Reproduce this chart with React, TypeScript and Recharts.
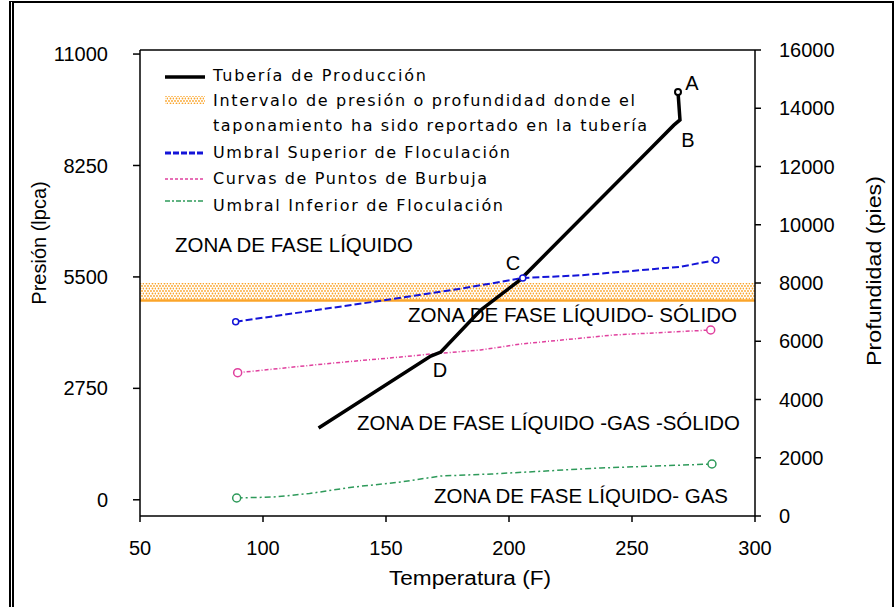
import React from 'react';
import { LineChart, Line, XAxis, YAxis, ReferenceArea, ReferenceLine, Customized } from 'recharts';

// ---- data ----
const tempTicks = [50, 100, 150, 200, 250, 300];
const presionTicks = [0, 2750, 5500, 8250, 11000];
const profTicks = [0, 2000, 4000, 6000, 8000, 10000, 12000, 14000, 16000];

// Tubería de Producción: temperatura (F) vs profundidad (pies)
const tuberiaTemp = [122.6, 168.2, 172.3, 188.5, 204.4, 257.7, 267.0, 269.5, 268.7];
const tuberiaProf = [3020, 5490, 5630, 7070, 8100, 12630, 13420, 13600, 14560];

// Intervalo de taponamiento (profundidad, pies)
const intervaloProf = [7400, 8000];

// Umbral Superior de Floculación: temperatura vs presión (lpca)
const superiorTemp = [88.9, 100.2, 147.2, 179.6, 205.6, 229.2, 249.5, 269.9, 284.1];
const superiorPres = [4395, 4494, 4906, 5202, 5473, 5540, 5646, 5752, 5918];

// Curvas de Puntos de Burbuja
const burbujaTemp = [89.7, 128.7, 156.0, 168.2, 188.5, 204.8, 242.6, 282.0];
const burbujaPres = [3136, 3376, 3524, 3598, 3697, 3845, 4067, 4190];

// Umbral Inferior de Floculación
const inferiorTemp = [89.3, 104.3, 118.9, 136.9, 156.0, 172.3, 193.0, 215.0, 237.3, 259.7, 282.5];
const inferiorPres = [44, 69, 155, 316, 439, 587, 637, 711, 785, 834, 883];

const legendItems = [
  'Tubería de Producción',
  'Intervalo de presión o profundidad donde el',
  'taponamiento ha sido reportado en la tubería',
  'Umbral Superior de Floculación',
  'Curvas de Puntos de Burbuja',
  'Umbral Inferior de Floculación',
];

const zoneLabels = [
  'ZONA DE FASE LÍQUIDO',
  'ZONA DE FASE LÍQUIDO- SÓLIDO',
  'ZONA DE FASE LÍQUIDO -GAS -SÓLIDO',
  'ZONA DE FASE LÍQUIDO- GAS',
];

const pointLetters = ['A', 'B', 'C', 'D'];

const zip = (xs: number[], ys: number[]) => xs.map((t, i) => ({ t, v: ys[i] }));

const tuberiaData = zip(tuberiaTemp, tuberiaProf);
const superiorData = zip(superiorTemp, superiorPres);
const burbujaData = zip(burbujaTemp, burbujaPres);
const inferiorData = zip(inferiorTemp, inferiorPres);

// ---- styles ----
const FONT = '"Liberation Sans", Arial, sans-serif';
const LFONT = '"DejaVu Sans", Verdana, sans-serif';
const BLACK = '#000000';
const BLUE = '#1414D8';
const PINK = '#E0409E';
const GREEN = '#2E9A5A';
const ORANGE = '#FBA52A';

const makeDot = (color: string, indices: number[], r: number, fill = '#ffffff', sw = 1.5) => (props: any) => {
  const { cx, cy, index } = props;
  if (!indices.includes(index) || cx == null || cy == null) return <g key={`d${index}`} />;
  return <circle key={`d${index}`} cx={cx} cy={cy} r={r} fill={fill} stroke={color} strokeWidth={sw} />;
};

const LegendBlock = () => {
  const tx = 213;
  const ys = [75, 100, 125, 152, 178, 205];
  const lengths = [213, 422, 434, 297, 274, 290];
  return (
    <g>
      <line x1={165} y1={77} x2={205} y2={77} stroke={BLACK} strokeWidth={3.5} />
      <rect x={165} y={96} width={40} height={8} fill="url(#bandDots)" />
      <line x1={165} y1={153} x2={205} y2={153} stroke={BLUE} strokeWidth={3} strokeDasharray="6 2" />
      <line x1={165} y1={179} x2={205} y2={179} stroke={PINK} strokeWidth={1.5} strokeDasharray="3 2" />
      <line x1={165} y1={201} x2={205} y2={201} stroke={GREEN} strokeWidth={1.5} strokeDasharray="5 2 2 2" />
      {legendItems.map((s, i) => (
        <text key={s} x={tx} y={ys[i]} dominantBaseline="central" fontFamily={LFONT} fontSize={16}
          fill={BLACK} textLength={lengths[i]} lengthAdjust="spacing">{s}</text>
      ))}
    </g>
  );
};

const Annotations = () => {
  const zonePos = [
    { x: 175, y: 245, w: 238 },
    { x: 408, y: 315, w: 329 },
    { x: 357, y: 423, w: 383 },
    { x: 434, y: 496, w: 294 },
  ];
  const letterPos = [
    { x: 692, y: 83 },
    { x: 688, y: 140 },
    { x: 513, y: 263 },
    { x: 440, y: 370 },
  ];
  return (
    <g>
      {zoneLabels.map((s, i) => (
        <text key={s} x={zonePos[i].x} y={zonePos[i].y} dominantBaseline="central" fontFamily={FONT}
          fontSize={20} fill={BLACK} textLength={zonePos[i].w} lengthAdjust="spacingAndGlyphs">{s}</text>
      ))}
      {pointLetters.map((s, i) => (
        <text key={s} x={letterPos[i].x} y={letterPos[i].y} dominantBaseline="central" textAnchor="middle"
          fontFamily={FONT} fontSize={20} fill={BLACK}>{s}</text>
      ))}
      <text x={470} y={578} dominantBaseline="central" textAnchor="middle" fontFamily={FONT} fontSize={20}
        fill={BLACK} textLength={162} lengthAdjust="spacingAndGlyphs">Temperatura (F)</text>
      <text x={39} y={243} dominantBaseline="central" textAnchor="middle" fontFamily={FONT} fontSize={20}
        fill={BLACK} transform="rotate(-90 39 243)">Presión (lpca)</text>
      <text x={874} y={271} dominantBaseline="central" textAnchor="middle" fontFamily={FONT} fontSize={20}
        fill={BLACK} transform="rotate(-90 874 271)" textLength={190} lengthAdjust="spacingAndGlyphs">Profundidad (pies)</text>
    </g>
  );
};

const tickStyle = { fontFamily: FONT, fontSize: 20, fill: BLACK };

export default function App() {
  return (
    <div style={{ position: 'absolute', left: 0, top: 0, width: 895, height: 607, background: '#fff', overflow: 'hidden' }}>
      <svg width={0} height={0} style={{ position: 'absolute' }}>
        <defs>
          <pattern id="bandDots" patternUnits="userSpaceOnUse" width={6} height={5}>
            <rect width={6} height={5} fill="#ffffff" />
            <circle cx={1} cy={1} r={0.9} fill={ORANGE} />
            <circle cx={4} cy={1} r={0.9} fill={ORANGE} />
            <circle cx={2.5} cy={3.5} r={0.9} fill={ORANGE} />
            <circle cx={5.5} cy={3.5} r={0.9} fill={ORANGE} />
          </pattern>
        </defs>
      </svg>
      <div style={{ position: 'absolute', left: 9, top: 1, width: 878, height: 640, borderLeft: '5px double #000', borderTop: '2px solid #000', borderRight: '2px solid #000' }} />
      <div style={{ position: 'absolute', left: 0, top: 0 }}>
        <LineChart width={895} height={607} margin={{ top: 50, right: 0, bottom: 0, left: 0 }}>
          <XAxis type="number" dataKey="t" domain={[50, 300]} ticks={tempTicks} allowDataOverflow
            height={91} tickSize={6} tickMargin={19} tick={tickStyle}
            axisLine={{ stroke: BLACK, strokeWidth: 1.5 }} tickLine={{ stroke: BLACK, strokeWidth: 1.5 }} />
          <YAxis yAxisId="left" orientation="left" type="number" domain={[-400, 11100]} ticks={presionTicks}
            allowDataOverflow width={140} tickSize={7} tickMargin={25} tick={tickStyle}
            axisLine={{ stroke: BLACK, strokeWidth: 1.5 }} tickLine={{ stroke: BLACK, strokeWidth: 1.5 }} />
          <YAxis yAxisId="right" orientation="right" type="number" domain={[0, 16000]} ticks={profTicks}
            allowDataOverflow width={140} tickSize={6} tickMargin={18} tick={{ ...tickStyle, textAnchor: 'start' }}
            axisLine={{ stroke: BLACK, strokeWidth: 1.5 }} tickLine={{ stroke: BLACK, strokeWidth: 1.5 }} />
          <ReferenceArea yAxisId="right" y1={intervaloProf[0]} y2={intervaloProf[1]} fill="url(#bandDots)" fillOpacity={1} stroke="none" />
          <ReferenceLine yAxisId="right" y={intervaloProf[0]} stroke={ORANGE} strokeWidth={2.5} />
          <ReferenceLine yAxisId="right" y={16000} stroke={BLACK} strokeWidth={1.5} />
          <Line data={inferiorData} yAxisId="left" dataKey="v" type="linear" stroke={GREEN} strokeWidth={1.5}
            strokeDasharray="6 3 2 3" isAnimationActive={false}
            dot={makeDot(GREEN, [0, inferiorData.length - 1], 4)} activeDot={false} />
          <Line data={burbujaData} yAxisId="left" dataKey="v" type="linear" stroke={PINK} strokeWidth={1.5}
            strokeDasharray="4 2 1 2" isAnimationActive={false}
            dot={makeDot(PINK, [0, burbujaData.length - 1], 4)} activeDot={false} />
          <Line data={superiorData} yAxisId="left" dataKey="v" type="linear" stroke={BLUE} strokeWidth={2}
            strokeDasharray="7 3" isAnimationActive={false}
            dot={makeDot(BLUE, [0, 4, superiorData.length - 1], 3)} activeDot={false} />
          <Line data={tuberiaData} yAxisId="right" dataKey="v" type="linear" stroke={BLACK} strokeWidth={3.5}
            isAnimationActive={false}
            dot={makeDot(BLACK, [tuberiaData.length - 1], 3, '#ffffff', 2)} activeDot={false} />
          <Customized component={LegendBlock} />
          <Customized component={Annotations} />
        </LineChart>
      </div>
    </div>
  );
}
